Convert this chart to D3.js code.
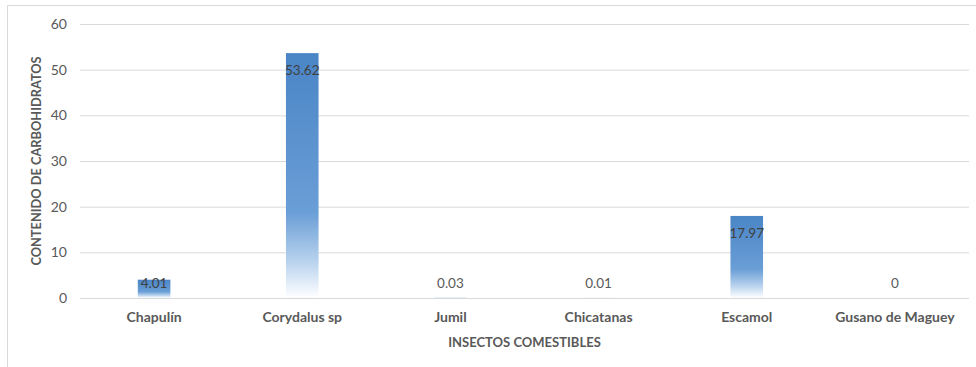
<!DOCTYPE html>
<html>
<head>
<meta charset="utf-8">
<script src="https://cdn.jsdelivr.net/npm/d3@7"></script>
<style>
  html, body { margin: 0; padding: 0; background: #fff; }
  svg { display: block; font-family: Lato, "Open Sans", sans-serif; }
</style>
</head>
<body>
<svg id="chart" width="976" height="367"></svg>
<script>
// Carbohydrate content of edible insects
const categories = ["Chapulín", "Corydalus sp", "Jumil", "Chicatanas", "Escamol", "Gusano de Maguey"];
const values = [4.01, 53.62, 0.03, 0.01, 17.97, 0];
const yTicks = [0, 10, 20, 30, 40, 50, 60];
const xTitle = "INSECTOS COMESTIBLES";
const yTitle = "CONTENIDO DE CARBOHIDRATOS";

const svg = d3.select("#chart");
const W = 976, H = 367;
const m = { left: 80, right: 7, top: 24, bottom: 69 };

// chart frame
svg.append("rect")
  .attr("x", 7.5).attr("y", 5.5)
  .attr("width", W + 10).attr("height", H + 10)
  .attr("fill", "none").attr("stroke", "#d9d9d9").attr("stroke-width", 1);

const x = d3.scaleBand().domain(categories).range([m.left, W - m.right]).paddingInner(0.78).paddingOuter(0.39);
const y = d3.scaleLinear().domain([0, 60]).range([H - m.bottom, m.top]);

// gradient fill for bars
const defs = svg.append("defs");
const grad = defs.append("linearGradient").attr("id", "barGrad")
  .attr("x1", 0).attr("y1", 0).attr("x2", 0).attr("y2", 1);
[[0, "#4a85c6"], [0.65, "#6a9ed6"], [0.85, "#b8d2ee"], [1, "#ffffff"]].forEach(([o, c]) =>
  grad.append("stop").attr("offset", o).attr("stop-color", c));

// gridlines + y axis
const yAxis = d3.axisLeft(y).tickValues(yTicks).tickSize(-(W - m.right - m.left)).tickPadding(13);
const gy = svg.append("g").attr("transform", `translate(${m.left},0)`).call(yAxis);
gy.select(".domain").remove();
gy.selectAll(".tick line").attr("stroke", "#d9d9d9").attr("stroke-width", 1);
gy.selectAll(".tick text").attr("fill", "#595959").attr("font-size", 14).attr("font-family", "Lato, sans-serif");

// bars
svg.append("g").selectAll("rect").data(values).join("rect")
  .attr("x", (d, i) => x(categories[i]))
  .attr("y", d => y(d))
  .attr("width", x.bandwidth())
  .attr("height", d => y(0) - y(d))
  .attr("fill", "url(#barGrad)");

// value labels
svg.append("g").selectAll("text").data(values).join("text")
  .attr("x", (d, i) => x(categories[i]) + x.bandwidth() / 2)
  .attr("y", d => Math.min(y(d) + 17, y(0) - 15))
  .attr("dy", "0.35em")
  .attr("text-anchor", "middle")
  .attr("font-size", 13.5)
  .attr("fill", d => d > 1 ? "#404040" : "#595959")
  .text(d => String(d));

// x axis category labels
const xAxis = d3.axisBottom(x).tickSize(0).tickPadding(14);
const gx = svg.append("g").attr("transform", `translate(0,${y(0)})`).call(xAxis);
gx.select(".domain").remove();
gx.selectAll(".tick text").attr("fill", "#595959").attr("font-size", 14)
  .attr("font-weight", "bold").attr("font-family", "Lato, sans-serif");

// axis titles
svg.append("text")
  .attr("x", (m.left + W - m.right) / 2).attr("y", 342).attr("dy", "0.35em")
  .attr("text-anchor", "middle").attr("font-size", 13).attr("font-weight", "bold")
  .attr("fill", "#595959").text(xTitle);

svg.append("text")
  .attr("transform", `translate(37,${(y(0) + y(60)) / 2}) rotate(-90)`)
  .attr("dy", "0.35em")
  .attr("text-anchor", "middle").attr("font-size", 12.8).attr("font-weight", "bold")
  .attr("fill", "#595959").text(yTitle);
</script>
</body>
</html>
